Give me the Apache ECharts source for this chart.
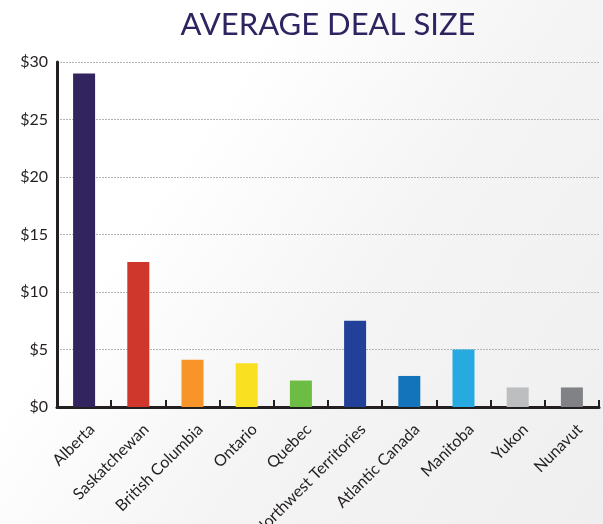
<!DOCTYPE html>
<html>
<head>
<meta charset="utf-8">
<script src="https://cdn.jsdelivr.net/npm/echarts@6/dist/echarts.min.js"></script>
<style>
  html, body { margin: 0; padding: 0; }
  body {
    width: 603px; height: 524px; overflow: hidden;
    background: linear-gradient(125deg, #ffffff 0%, #ffffff 30%, #f4f4f4 60%, #efefef 100%);
  }
  #chart { width: 603px; height: 524px; }
</style>
</head>
<body>
<div id="chart"></div>
<script>
// Average deal size by region (millions of dollars)
const regions = ['Alberta', 'Saskatchewan', 'British Columbia', 'Ontario', 'Quebec',
  'Northwest Territories', 'Atlantic Canada', 'Manitoba', 'Yukon', 'Nunavut'];
const dealSize = [29.0, 12.6, 4.1, 3.8, 2.3, 7.5, 2.7, 5.0, 1.7, 1.7];
const barColors = ['#32245e', '#d0372c', '#f7952a', '#f9e021', '#6dbd45',
  '#21409a', '#1474bb', '#27aae1', '#bcbec0', '#808285'];
const yTicks = [0, 5, 10, 15, 20, 25, 30];

const chart = echarts.init(document.getElementById('chart'), null, { renderer: 'canvas' });
chart.setOption({
  backgroundColor: 'transparent',
  animation: false,
  title: {
    text: 'AVERAGE DEAL SIZE',
    left: 323, top: 4, textAlign: 'center',
    textStyle: { fontFamily: 'Lato', fontWeight: 'normal', fontSize: 31, color: '#2e2460' }
  },
  grid: { left: 57, right: 4, top: 62, bottom: 117, containLabel: false, outerBoundsMode: 'none' },
  xAxis: {
    type: 'category',
    data: regions,
    boundaryGap: true,
    axisLine: { lineStyle: { color: '#231f20', width: 3 } },
    axisTick: { show: true, inside: true, length: 7, lineStyle: { color: '#231f20', width: 2 } },
    axisLabel: {
      rotate: 45, interval: 0, margin: 12,
      verticalAlign: 'top', lineHeight: 22,
      fontFamily: 'Lato', fontSize: 16, color: '#231f20'
    }
  },
  yAxis: {
    type: 'value',
    min: yTicks[0], max: yTicks[yTicks.length - 1], interval: 5,
    axisLine: { show: true, lineStyle: { color: '#231f20', width: 3 } },
    axisTick: { show: false },
    axisLabel: {
      margin: 9, fontFamily: 'Lato', fontSize: 16, color: '#231f20',
      formatter: v => '$' + v
    },
    splitLine: { show: true, lineStyle: { color: '#b5b5b5', type: [2, 1], width: 1 } }
  },
  series: [{
    type: 'bar',
    barWidth: 22,
    data: dealSize.map((v, i) => ({ value: v, itemStyle: { color: barColors[i] } })),
    z: 1
  }]
});
</script>
</body>
</html>
